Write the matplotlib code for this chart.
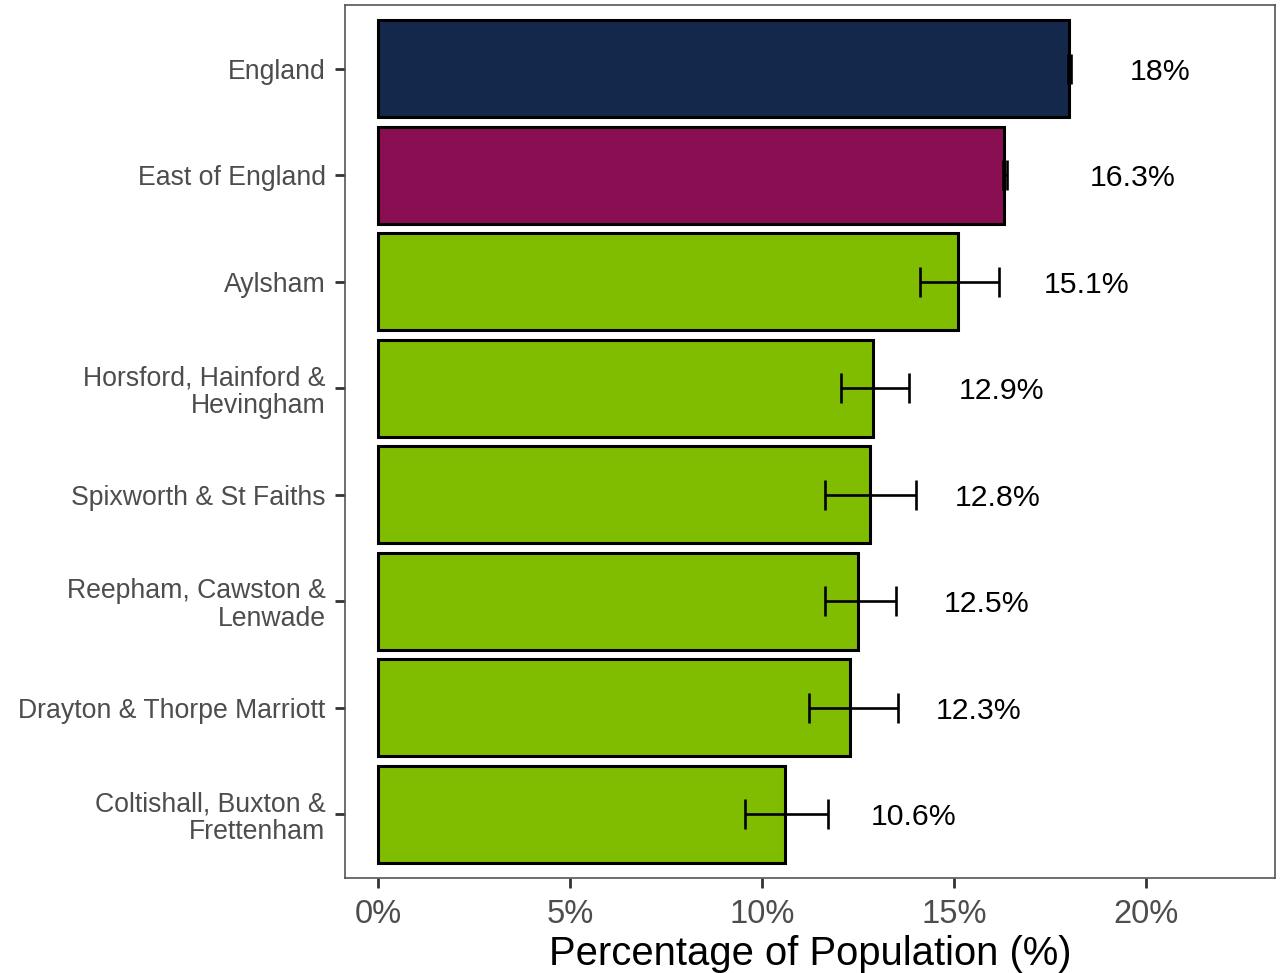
import matplotlib
matplotlib.use("Agg")
import matplotlib.pyplot as plt
from matplotlib.ticker import FuncFormatter

plt.rcParams['font.family'] = ['Liberation Sans', 'DejaVu Sans']

areas = ["England", "East of England", "Aylsham", "Horsford, Hainford &\nHevingham",
         "Spixworth & St Faiths", "Reepham, Cawston &\nLenwade",
         "Drayton & Thorpe Marriott", "Coltishall, Buxton &\nFrettenham"]
values = [18.0, 16.3, 15.1, 12.9, 12.8, 12.5, 12.3, 10.6]
ci_low = [17.96, 16.28, 14.11, 12.06, 11.64, 11.64, 11.22, 9.56]
ci_high = [18.04, 16.38, 16.17, 13.83, 14.01, 13.49, 13.54, 11.72]
labels = ["18%", "16.3%", "15.1%", "12.9%", "12.8%", "12.5%", "12.3%", "10.6%"]
colors = ["#14284B", "#8A0F52", "#80BC00", "#80BC00", "#80BC00", "#80BC00", "#80BC00", "#80BC00"]
xticks = [0, 5, 10, 15, 20]

fig = plt.figure(figsize=(12.83, 9.73), dpi=100)
ax = fig.add_axes([0.2689, 0.0976, 0.9938 - 0.2689, 0.9949 - 0.0976])

n = len(areas)
ypos = [n - 1 - i for i in range(n)]

ax.barh(ypos, values, height=0.91, color=colors, edgecolor="black", linewidth=2.2, zorder=2)
xerr = [[v - l for v, l in zip(values, ci_low)], [h - v for v, h in zip(values, ci_high)]]
ax.errorbar(values, ypos, xerr=xerr, fmt="none", ecolor="black", elinewidth=1.9,
            capsize=11, capthick=1.9, zorder=3)

for i, (v, lab) in enumerate(zip(values, labels)):
    off = 2.36 if i == 0 else 3.35
    ax.text(v + off, ypos[i], lab, ha="center", va="center_baseline", fontsize=21.8, color="black")

ax.set_xlim(-0.86, 23.36)
ax.set_ylim(-0.6, n - 1 + 0.6)
ax.set_yticks(ypos)
ax.set_yticklabels(areas, fontsize=19.2, color="#4D4D4D", linespacing=1.1)
ax.set_xticks(xticks)
ax.xaxis.set_major_formatter(FuncFormatter(lambda x, p: f"{x:.0f}%"))
ax.tick_params(axis="x", labelsize=23.5, labelcolor="#4D4D4D", color="#333333",
               length=7, width=2, pad=8)
ax.tick_params(axis="y", color="#333333", length=7, width=2, pad=7)
for s in ax.spines.values():
    s.set_color("#555555")
    s.set_linewidth(1.2)
ax.set_xlabel("Percentage of Population (%)", fontsize=28.8, color="black", labelpad=4)

fig.savefig("out.png", dpi=100)
